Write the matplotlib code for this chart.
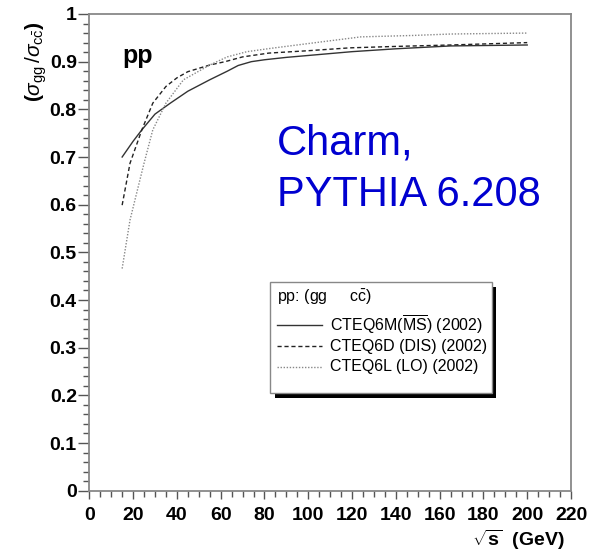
import matplotlib
matplotlib.use("Agg")
import matplotlib.pyplot as plt
from matplotlib.lines import Line2D
from matplotlib.patches import Rectangle
from matplotlib.ticker import MultipleLocator

plt.rcParams['font.family'] = ['Liberation Sans', 'DejaVu Sans']
plt.rcParams['mathtext.fontset'] = 'custom'
plt.rcParams['mathtext.rm'] = 'Liberation Sans'
plt.rcParams['mathtext.it'] = 'Liberation Sans:italic'
plt.rcParams['mathtext.bf'] = 'Liberation Sans:bold'

# ---- data ----
x_6m = [15, 20, 24, 30, 37, 45, 55, 63, 68, 74, 80, 90, 100, 120, 140, 165, 200]
y_6m = [0.700, 0.733, 0.757, 0.790, 0.813, 0.838, 0.862, 0.880, 0.892, 0.900, 0.904,
        0.909, 0.913, 0.921, 0.927, 0.933, 0.935]

x_6d = [15, 18.6, 24, 29, 35, 40, 45, 50, 55, 62, 70, 82, 100, 119, 140, 165, 200]
y_6d = [0.599, 0.687, 0.757, 0.813, 0.848, 0.866, 0.879, 0.886, 0.893, 0.900,
        0.910, 0.918, 0.923, 0.929, 0.932, 0.935, 0.940]

x_6l = [15, 18.6, 25, 29, 35, 43, 50, 55, 63, 72, 83, 100, 124, 148, 165, 200]
y_6l = [0.466, 0.568, 0.687, 0.757, 0.813, 0.862, 0.880, 0.893, 0.910, 0.921,
        0.928, 0.938, 0.952, 0.955, 0.958, 0.960]

series_labels = [r'CTEQ6M($\overline{\mathrm{MS}}$) (2002)',
                 'CTEQ6D (DIS) (2002)',
                 'CTEQ6L (LO) (2002)']
legend_title = r'pp: (gg     c$\bar{\mathrm{c}}$)'
x_ticks = list(range(0, 221, 20))
y_ticks = [0, 0.1, 0.2, 0.3, 0.4, 0.5, 0.6, 0.7, 0.8, 0.9, 1]
y_tick_labels = ['0', '0.1', '0.2', '0.3', '0.4', '0.5', '0.6', '0.7', '0.8', '0.9', '1']

W, H = 598, 552
def fx(px):
    return px / W
def fy(py):
    return 1 - py / H

fig = plt.figure(figsize=(W / 100, H / 100), dpi=100)
ax = fig.add_axes([fx(89.3), fy(490.7), fx(571) - fx(89.3), fy(14) - fy(490.7)])

styles = [dict(color='#333333', linestyle='-', linewidth=1.0),
          dict(color='#222222', linestyle=(0, (3, 2)), linewidth=1.0),
          dict(color='#888888', linestyle=(0, (1, 1.2)), linewidth=1.0)]

ax.plot(x_6m, y_6m, **styles[0])
ax.plot(x_6d, y_6d, **styles[1])
ax.plot(x_6l, y_6l, **styles[2])

ax.set_xlim(0, 220)
ax.set_ylim(0, 1)
ax.set_xticks(x_ticks)
ax.set_yticks(y_ticks)
ax.set_yticklabels(y_tick_labels)
ax.xaxis.set_minor_locator(MultipleLocator(5))
ax.yaxis.set_minor_locator(MultipleLocator(0.02))
for sp in ax.spines.values():
    sp.set_color('#888888')
    sp.set_linewidth(1.3)
ax.tick_params(axis='both', which='both', direction='out', color='#555555', width=1.0)
ax.tick_params(axis='x', which='major', length=6, pad=6, labelsize=14)
ax.tick_params(axis='x', which='minor', length=4)
ax.tick_params(axis='y', which='major', length=8, pad=1, labelsize=14)
ax.tick_params(axis='y', which='minor', length=4)
for lab in ax.get_xticklabels() + ax.get_yticklabels():
    lab.set_fontweight('bold')

# axis titles
fig.text(fx(565), fy(540), r'$\sqrt{\mathbf{s}}$  (GeV)', fontsize=14,
         fontweight='bold', ha='right', va='center')
fig.text(fx(36), fy(62),
         r'$\mathbf{(}\sigma_{\mathrm{gg}}\,/\sigma_{\mathrm{c}\bar{\mathrm{c}}}\mathbf{)}$',
         fontsize=15, rotation=90, ha='center', va='center')

# annotations
fig.text(fx(122), fy(63), 'pp', fontsize=18, fontweight='bold', va='baseline')
fig.text(fx(277), fy(155), 'Charm,', fontsize=30, color='#0000d0', va='baseline')
fig.text(fx(277), fy(206), 'PYTHIA 6.208', fontsize=30, color='#0000d0', va='baseline')

# legend box with shadow
bx0, by0, bx1, by1 = 270, 282, 492, 393
fig.add_artist(Rectangle((fx(bx0 + 5), fy(by1 + 4.5)), fx(bx1 + 4.5) - fx(bx0 + 5),
                         fy(by0 + 5) - fy(by1 + 4.5), facecolor='black',
                         edgecolor='none', zorder=5))
fig.add_artist(Rectangle((fx(bx0), fy(by1)), fx(bx1) - fx(bx0), fy(by0) - fy(by1),
                         facecolor='white', edgecolor='#888888', linewidth=1.0,
                         zorder=6))
fig.text(fx(277), fy(297), legend_title, fontsize=11.5, va='center', zorder=7)
rows = [325, 346, 367]
for lab, st, ry in zip(series_labels, styles, rows):
    fig.add_artist(Line2D([fx(277), fx(322)], [fy(ry), fy(ry)], zorder=7, **st))
    fig.text(fx(330), fy(ry), lab, fontsize=11.5, va='center', zorder=7)

fig.savefig('out.png', dpi=100)
